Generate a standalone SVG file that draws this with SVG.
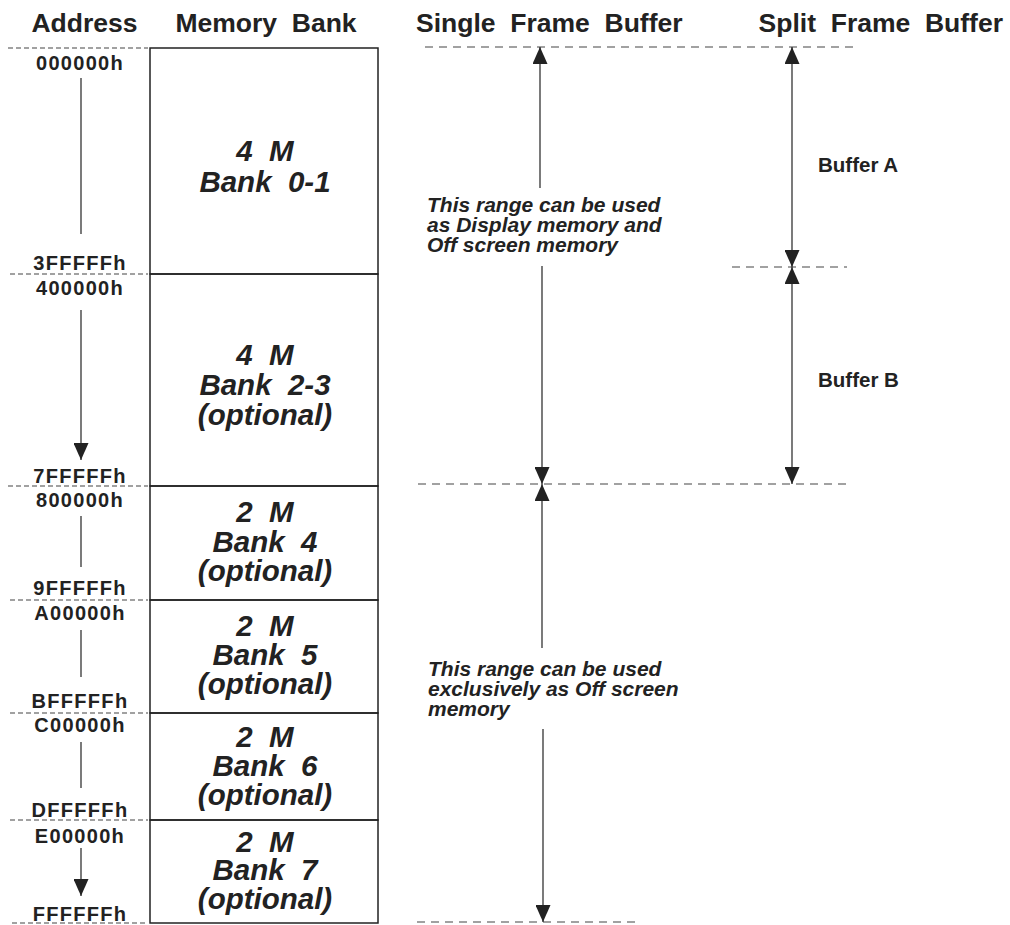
<svg xmlns="http://www.w3.org/2000/svg" width="1010" height="925" viewBox="0 0 1010 925">
<defs>
<style>
.hdr{font-family:"Liberation Sans",Arial,sans-serif;font-weight:bold;font-size:26.5px;fill:#222;white-space:pre}
.addr{font-family:"Liberation Sans",Arial,sans-serif;font-weight:bold;font-size:20px;fill:#222;text-anchor:middle;letter-spacing:1.3px}
.bank{font-family:"Liberation Sans",Arial,sans-serif;font-weight:bold;font-style:italic;font-size:29.5px;fill:#222;text-anchor:middle;white-space:pre}
.note{font-family:"Liberation Sans",Arial,sans-serif;font-weight:bold;font-style:italic;font-size:21px;fill:#222}
.buf{font-family:"Liberation Sans",Arial,sans-serif;font-weight:bold;font-size:20.5px;fill:#222}
.dashL{stroke:#444;stroke-width:1.2;stroke-dasharray:5 3;fill:none}
.dashR{stroke:#444;stroke-width:1.2;stroke-dasharray:8 6;fill:none}
.box{stroke:#222;stroke-width:1.5;fill:none}
.ln{stroke:#333;stroke-width:1.3;fill:none}
</style>
<marker id="ah" viewBox="0 0 17 15" refX="17" refY="7.5" markerWidth="17" markerHeight="15" markerUnits="userSpaceOnUse" orient="auto-start-reverse">
<path d="M0,0 L17,7.5 L0,15 z" fill="#222"/>
</marker>
</defs>
<rect width="1010" height="925" fill="#fff"/>

<g id="headers">
<text class="hdr" x="84.5" y="32" text-anchor="middle">Address</text>
<text class="hdr" x="266" y="32" text-anchor="middle">Memory  Bank</text>
<text class="hdr" x="416" y="32">Single  Frame  Buffer</text>
<text class="hdr" x="1003" y="32" text-anchor="end">Split  Frame  Buffer</text>
</g>

<g id="boundaries">
<line class="dashL" x1="8" y1="48" x2="148" y2="48"/>
<line class="dashL" x1="10" y1="274" x2="148" y2="274"/>
<line class="dashL" x1="8" y1="486" x2="148" y2="486"/>
<line class="dashL" x1="10" y1="600" x2="148" y2="600"/>
<line class="dashL" x1="10" y1="713" x2="148" y2="713"/>
<line class="dashL" x1="10" y1="820" x2="148" y2="820"/>
<line class="dashL" x1="12" y1="923" x2="148" y2="923"/>
<line class="dashR" x1="425" y1="47" x2="858" y2="47"/>
<line class="dashR" x1="732" y1="267" x2="847" y2="267"/>
<line class="dashR" x1="418" y1="484" x2="850" y2="484"/>
<line class="dashR" x1="417" y1="922" x2="637" y2="922"/>
</g>

<g id="address-labels">
<text class="addr" x="80" y="70">000000h</text>
<text class="addr" x="80" y="270">3FFFFFh</text>
<text class="addr" x="80" y="295">400000h</text>
<text class="addr" x="80" y="483">7FFFFFh</text>
<text class="addr" x="80" y="507">800000h</text>
<text class="addr" x="80" y="595">9FFFFFh</text>
<text class="addr" x="80" y="620">A00000h</text>
<text class="addr" x="80" y="708">BFFFFFh</text>
<text class="addr" x="80" y="732">C00000h</text>
<text class="addr" x="80" y="817">DFFFFFh</text>
<text class="addr" x="80" y="843">E00000h</text>
<text class="addr" x="80" y="921">FFFFFFh</text>
</g>

<g id="bank-0-1">
<rect class="box" x="150" y="48" width="228" height="226"/>
<text class="bank" x="265" y="161">4  M</text>
<text class="bank" x="265" y="192">Bank  0-1</text>
</g>
<g id="bank-2-3">
<rect class="box" x="150" y="274" width="228" height="212"/>
<text class="bank" x="265" y="365">4  M</text>
<text class="bank" x="265" y="395">Bank  2-3</text>
<text class="bank" x="265" y="425">(optional)</text>
</g>
<g id="bank-4">
<rect class="box" x="150" y="486" width="228" height="114"/>
<text class="bank" x="265" y="522">2  M</text>
<text class="bank" x="265" y="552">Bank  4</text>
<text class="bank" x="265" y="581">(optional)</text>
</g>
<g id="bank-5">
<rect class="box" x="150" y="600" width="228" height="113"/>
<text class="bank" x="265" y="636">2  M</text>
<text class="bank" x="265" y="665">Bank  5</text>
<text class="bank" x="265" y="694">(optional)</text>
</g>
<g id="bank-6">
<rect class="box" x="150" y="713" width="228" height="107"/>
<text class="bank" x="265" y="747">2  M</text>
<text class="bank" x="265" y="776">Bank  6</text>
<text class="bank" x="265" y="805">(optional)</text>
</g>
<g id="bank-7">
<rect class="box" x="150" y="820" width="228" height="103"/>
<text class="bank" x="265" y="852">2  M</text>
<text class="bank" x="265" y="880">Bank  7</text>
<text class="bank" x="265" y="909">(optional)</text>
</g>

<g id="notes">
<text class="note" x="427" y="212">This range can be used</text>
<text class="note" x="427" y="232">as Display memory and</text>
<text class="note" x="427" y="252">Off screen memory</text>
<text class="note" x="428" y="676">This range can be used</text>
<text class="note" x="428" y="696">exclusively as Off screen</text>
<text class="note" x="428" y="716">memory</text>
<text class="buf" x="818" y="172">Buffer A</text>
<text class="buf" x="818" y="387">Buffer B</text>
</g>

<g id="connectors">
<line class="ln" x1="81" y1="78" x2="81" y2="234"/>
<line class="ln" x1="81" y1="310" x2="81" y2="460" marker-end="url(#ah)"/>
<line class="ln" x1="81" y1="516" x2="81" y2="567"/>
<line class="ln" x1="81" y1="630" x2="81" y2="677"/>
<line class="ln" x1="81" y1="742" x2="81" y2="788"/>
<line class="ln" x1="81" y1="848" x2="81" y2="896" marker-end="url(#ah)"/>
<line class="ln" x1="540" y1="47" x2="540" y2="188" marker-start="url(#ah)"/>
<line class="ln" x1="542" y1="266" x2="542" y2="484" marker-end="url(#ah)"/>
<line class="ln" x1="542" y1="484" x2="542" y2="648" marker-start="url(#ah)"/>
<line class="ln" x1="543" y1="729" x2="543" y2="922" marker-end="url(#ah)"/>
<line class="ln" x1="792" y1="47" x2="792" y2="267" marker-start="url(#ah)" marker-end="url(#ah)"/>
<line class="ln" x1="792" y1="267" x2="792" y2="484" marker-start="url(#ah)" marker-end="url(#ah)"/>
</g>
</svg>
